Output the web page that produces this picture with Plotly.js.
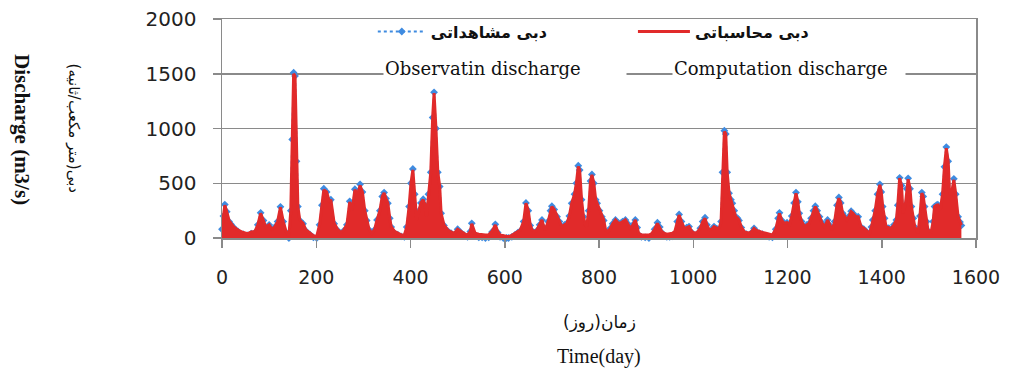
<!DOCTYPE html>
<html>
<head>
<meta charset="utf-8">
<script src="https://cdn.plot.ly/plotly-3.0.1.min.js"></script>
<style>html,body{margin:0;padding:0;background:#fff;}#chart{width:1021px;height:376px;}</style>
</head>
<body>
<div id="chart"></div>
<script>
// Day positions (key points of the hydrograph)
const days = [0,3,6,10,15,19,25,34,45,55,62,70,76,82,88,93,100,106,112,118,124,130,136,142,146,149,152,155,158,161,165,172,178,187,194,201,207,212,216,222,228,231,238,245,252,258,265,271,276,282,288,293,298,303,307,312,318,324,329,335,340,344,348,352,356,359,366,373,380,387,392,397,401,405,409,413,418,422,427,431,434,438,443,447,450,454,458,462,465,471,479,486,493,500,507,514,521,527,530,537,545,552,559,566,573,580,585,590,597,604,608,615,622,628,633,640,645,650,654,658,663,668,674,679,683,686,692,697,700,705,711,716,721,727,732,737,742,748,752,756,759,763,767,771,774,778,782,785,789,793,796,801,806,810,814,819,824,829,835,840,845,850,856,861,866,872,877,881,884,890,898,906,912,918,924,929,933,938,944,950,956,961,966,970,975,981,986,991,997,1002,1008,1015,1020,1025,1029,1034,1039,1044,1050,1055,1059,1062,1066,1069,1072,1076,1080,1083,1087,1090,1094,1097,1102,1108,1113,1118,1124,1129,1134,1140,1147,1154,1161,1168,1175,1180,1183,1188,1193,1199,1204,1209,1214,1218,1222,1225,1230,1236,1241,1246,1250,1255,1259,1263,1268,1273,1278,1282,1285,1290,1295,1300,1305,1309,1313,1317,1322,1326,1331,1335,1339,1345,1350,1356,1362,1367,1371,1374,1378,1381,1386,1391,1396,1399,1402,1406,1409,1415,1420,1426,1431,1434,1438,1442,1445,1450,1453,1456,1460,1463,1467,1470,1474,1477,1481,1485,1488,1491,1495,1498,1502,1505,1509,1512,1516,1519,1524,1529,1533,1537,1541,1544,1548,1553,1557,1562,1566,1569];

// Computation discharge (m3/s)
const computed = [90,200,300,240,160,135,100,73,50,40,55,60,120,225,160,100,120,80,100,150,280,150,60,20,250,900,1500,1480,700,287,165,134,73,43,20,15,120,300,440,420,330,350,135,80,50,70,120,330,250,440,400,480,420,250,165,80,43,80,165,250,380,410,360,317,180,104,60,43,30,27,100,287,500,622,400,165,250,320,350,300,195,400,600,1100,1324,1000,600,470,225,120,73,55,43,80,58,40,27,60,130,43,35,30,27,30,60,119,60,27,20,15,12,25,43,60,73,150,317,250,120,73,60,73,120,165,100,73,150,250,287,260,195,150,104,120,134,200,317,400,500,653,620,350,195,120,104,250,520,576,500,350,317,250,195,165,73,60,88,130,165,140,134,150,165,130,88,120,165,100,43,30,27,27,40,80,134,100,60,43,35,40,43,60,150,210,150,88,95,104,60,43,50,90,150,180,120,73,80,104,90,88,150,600,973,950,600,409,350,317,250,195,180,165,100,58,50,43,60,88,70,58,50,43,35,27,80,180,225,160,134,140,120,200,320,409,330,225,150,104,120,134,180,250,287,250,195,140,104,130,165,120,73,150,300,363,320,225,190,165,200,240,225,195,195,104,90,73,55,43,100,165,250,400,485,420,287,180,104,95,88,120,165,300,546,480,225,300,450,537,450,287,180,104,70,43,200,409,380,287,150,73,60,58,150,287,300,302,250,400,650,820,700,409,400,531,400,195,150,119];

// Observed discharge (m3/s)
const observed = [80,200,305,240,150,125,95,60,35,25,40,50,120,230,160,95,120,75,100,150,285,150,50,0,250,900,1510,1480,700,287,160,130,65,30,5,0,120,300,450,420,330,350,130,70,35,65,120,335,250,445,400,490,420,250,160,75,30,75,165,250,380,415,360,317,180,100,45,30,15,10,100,287,500,630,400,160,250,320,355,300,195,400,600,1100,1330,1000,600,470,225,115,65,45,30,80,50,25,10,60,134,30,5,5,0,5,55,125,50,10,0,0,0,10,30,50,65,150,320,250,115,65,50,65,120,165,95,65,150,250,290,260,195,150,100,120,134,200,317,400,500,660,620,350,195,115,100,250,520,580,500,350,317,250,195,160,60,50,88,130,165,140,134,150,165,130,85,120,165,95,30,10,5,0,20,80,140,100,50,20,10,10,15,40,150,215,150,80,95,104,50,20,35,90,150,185,120,60,75,104,85,80,150,600,980,950,600,409,350,317,250,195,180,160,95,45,35,25,50,88,60,45,35,20,10,5,80,180,230,160,130,140,120,200,320,415,330,225,150,100,120,134,180,250,290,250,195,140,100,130,165,115,60,150,300,370,320,225,190,165,200,245,225,195,195,100,80,60,40,25,100,165,250,400,490,420,287,180,100,90,80,120,165,300,550,480,225,300,450,545,450,287,180,100,60,25,200,415,380,287,150,65,50,45,150,287,300,305,250,400,650,830,700,409,400,540,400,195,145,115];

const xTicks = [0,200,400,600,800,1000,1200,1400,1600];
const yTicks = [0,500,1000,1500,2000];

const RED = '#e12a2a', BLUE = '#3f8be0';

const traceObs = {
  x: days, y: observed, type: 'scatter', mode: 'lines+markers',
  name: 'دبی مشاهداتی', legend: 'legend',
  line: {color: BLUE, width: 2, dash: 'dot'},
  marker: {color: BLUE, size: 6, symbol: 'diamond'},
  cliponaxis: false
};
const traceCompFill = {
  x: days, y: computed, type: 'scatter', mode: 'none',
  showlegend: false, hoverinfo: 'skip',
  fill: 'tozeroy', fillcolor: RED
};
const traceCompLine = {
  x: days, y: computed, type: 'scatter', mode: 'lines',
  name: 'دبی محاسباتی', legend: 'legend2',
  line: {color: RED, width: 3}
};

const legendFont = {family: 'DejaVu Sans', size: 16, color: '#111', weight: 'bold'};

const layout = {
  width: 1021, height: 376,
  margin: {l: 222, r: 45, t: 19, b: 138},
  paper_bgcolor: '#fff', plot_bgcolor: '#fff',
  showlegend: true,
  legend: {
    orientation: 'h', x: 0.2, xanchor: 'left', y: 1.02, yanchor: 'top',
    font: legendFont, bgcolor: 'rgba(255,255,255,0)', itemwidth: 48
  },
  legend2: {
    orientation: 'h', x: 0.545, xanchor: 'left', y: 1.02, yanchor: 'top',
    font: legendFont, bgcolor: 'rgba(255,255,255,0)', itemwidth: 52
  },
  xaxis: {
    range: [0, 1600], tickvals: xTicks, ticktext: xTicks.map(String),
    showgrid: false, zeroline: false,
    showline: true, linecolor: '#8a8a8a', linewidth: 1.5, mirror: true,
    ticks: 'outside', ticklen: 8, tickcolor: '#8a8a8a', tickwidth: 1.5,
    ticklabelstandoff: 14,
    tickfont: {family: 'DejaVu Sans', size: 19, color: '#222'}
  },
  yaxis: {
    range: [0, 2000], tickvals: yTicks, ticktext: yTicks.map(String),
    showgrid: true, gridcolor: '#8a8a8a', gridwidth: 1.5, zeroline: false,
    showline: true, linecolor: '#8a8a8a', linewidth: 1.5, mirror: true,
    ticks: 'outside', ticklen: 8, tickcolor: '#8a8a8a', tickwidth: 1.5,
    ticklabelstandoff: 12,
    tickfont: {family: 'DejaVu Sans', size: 20, color: '#222'}
  },
  annotations: [
    {xref: 'paper', yref: 'paper', x: 0.2135, y: 0.776, xanchor: 'left', yanchor: 'middle',
     text: 'Observatin discharge', showarrow: false, align: 'left', width: 240,
     bgcolor: '#fff', font: {family: 'DejaVu Serif', size: 18, color: '#111'}},
    {xref: 'paper', yref: 'paper', x: 0.597, y: 0.776, xanchor: 'left', yanchor: 'middle',
     text: 'Computation discharge', showarrow: false, align: 'left', width: 230,
     bgcolor: '#fff', font: {family: 'DejaVu Serif', size: 18, color: '#111'}},
    {xref: 'paper', yref: 'paper', x: -0.2653, y: 0.493, xanchor: 'center', yanchor: 'middle',
     text: 'Discharge (m3/s)', textangle: 90, showarrow: false,
     font: {family: 'Liberation Serif', size: 21, color: '#111', weight: 'bold'}},
    {xref: 'paper', yref: 'paper', x: -0.195, y: 0.5, xanchor: 'center', yanchor: 'middle',
     text: 'دبی(متر مکعب/ثانیه)', textangle: 90, showarrow: false,
     font: {family: 'DejaVu Sans', size: 15, color: '#111'}},
    {xref: 'paper', yref: 'paper', x: 0.5, y: -0.3836, xanchor: 'center', yanchor: 'middle',
     text: 'زمان(روز)', showarrow: false,
     font: {family: 'DejaVu Sans', size: 17, color: '#111'}},
    {xref: 'paper', yref: 'paper', x: 0.5, y: -0.543, xanchor: 'center', yanchor: 'middle',
     text: 'Time(day)', showarrow: false,
     font: {family: 'Liberation Serif', size: 20, color: '#111'}}
  ]
};

Plotly.newPlot('chart', [traceObs, traceCompFill, traceCompLine], layout, {displayModeBar: false, staticPlot: true});
</script>
</body>
</html>
